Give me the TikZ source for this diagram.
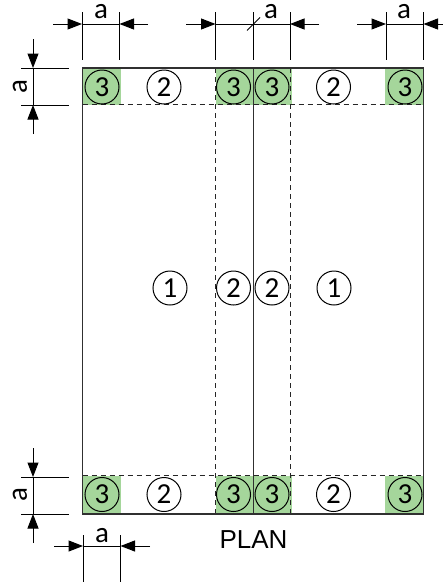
\documentclass[tikz,border=0pt]{standalone}
\usepackage{fontspec}
\setmainfont{Carlito}
\newfontfamily\plainsans{Liberation Sans}
\usetikzlibrary{arrows.meta}
\definecolor{cellgreen}{HTML}{A5D69B}
\definecolor{edgegrey}{HTML}{303030}
\tikzset{
  x=1pt,y=-1pt,
  wall/.style={draw=edgegrey,line width=1.4pt},
  hidden/.style={draw=black!85,line width=1.1pt,dash pattern=on 5pt off 4pt},
  dim/.style={draw=black,line width=1pt},
  dimarrow/.style={draw=black,line width=1pt,-{Triangle[length=14.5pt,width=11pt]}},
  mark3/.style={circle,draw=black,line width=1pt,minimum size=34pt,inner sep=0pt,font=\fontsize{29}{29}\selectfont},
  mark12/.style={mark3,fill=white},
  dimtext/.style={inner sep=0pt,anchor=base,font=\fontsize{29}{29}\selectfont},
}
\begin{document}
\begin{tikzpicture}
\useasboundingbox (0,0) rectangle (443,584);
% green cells
\foreach \y/\h in {68/37,476/38}{
  \fill[cellgreen] (83,\y) rectangle ++(38,\h);
  \fill[cellgreen] (215.5,\y) rectangle ++(76,\h);
  \fill[cellgreen] (385,\y) rectangle ++(38.5,\h);
}
% hidden lines
\coordinate (dl1) at (82.5,104.5); \coordinate (dr1) at (423.5,104.5);
\coordinate (dl2) at (82.5,475.5); \coordinate (dr2) at (423.5,475.5);
\coordinate (vt1) at (215.5,68); \coordinate (vb1) at (215.5,514);
\coordinate (vt2) at (290.5,68); \coordinate (vb2) at (290.5,514);
\draw[hidden] (dl1) -- (dr1);
\draw[hidden] (dl2) -- (dr2);
\draw[hidden] (vt1) -- (vb1);
\draw[hidden] (vt2) -- (vb2);
% outline
\coordinate (ot) at (253.5,68); \coordinate (ob) at (253.5,514);
\draw[wall] (82.5,68) rectangle (423.5,514);
\draw[wall] (ot) -- (ob);
% markers
\node[mark3] (a1) at (102,87) {3};
\node[mark12] (a2) at (164,87) {2};
\node[mark3] (a3) at (233.5,87) {3};
\node[mark3] (a4) at (272,87) {3};
\node[mark12] (a5) at (333.5,87) {2};
\node[mark3] (a6) at (405,87) {3};
\node[mark12] (b1) at (170,288) {1};
\node[mark12] (b2) at (233.5,288) {2};
\node[mark12] (b3) at (272,288) {2};
\node[mark12] (b4) at (334,288) {1};
\node[mark3] (c1) at (102,494.5) {3};
\node[mark12] (c2) at (164,494.5) {2};
\node[mark3] (c3) at (233.5,494.5) {3};
\node[mark3] (c4) at (272,494.5) {3};
\node[mark12] (c5) at (333.5,494.5) {2};
\node[mark3] (c6) at (405,494.5) {3};
% top dimensions
\foreach \x in {82,119.5,215.5,253,290,386,423.5}
  \draw[dim] (\x,12) -- (\x,60);
\draw[dim] (82,24) -- (119.5,24);
\draw[dim] (215.5,24) -- (290,24);
\draw[dim] (386,24) -- (423.5,24);
\draw[dim] (247,30.5) -- (260,17.5);
\draw[dimarrow] (53,24) -- (82,24);
\draw[dimarrow] (148,24) -- (119.5,24);
\draw[dimarrow] (186,24) -- (215.5,24);
\draw[dimarrow] (319,24) -- (290,24);
\draw[dimarrow] (357,24) -- (386,24);
\draw[dimarrow] (452,24) -- (423.5,24);
\node[dimtext] (t1) at (101,18) {a};
\node[dimtext] (t2) at (271,18) {a};
\node[dimtext] (t3) at (404,18) {a};
% left dimensions
\foreach \y in {68,105,477,514}
  \draw[dim] (21,\y) -- (69,\y);
\draw[dim] (33,68) -- (33,105);
\draw[dim] (33,477) -- (33,514);
\draw[dimarrow] (33,39) -- (33,68);
\draw[dimarrow] (33,134) -- (33,105);
\draw[dimarrow] (33,448) -- (33,477);
\draw[dimarrow] (33,543) -- (33,514);
\node[dimtext,rotate=90] (t4) at (27,87) {a};
\node[dimtext,rotate=90] (t5) at (27,495) {a};
% bottom dimension
\foreach \x in {83,120.5}
  \draw[dim] (\x,535) -- (\x,582);
\draw[dim] (83,546) -- (120.5,546);
\draw[dimarrow] (54,546) -- (83,546);
\draw[dimarrow] (150,546) -- (120.5,546);
\node[dimtext] (t6) at (102,542) {a};
\node[inner sep=0pt,font=\plainsans\fontsize{26}{26}\selectfont] (plan) at (253.5,540) {PLAN};
\end{tikzpicture}
\end{document}
